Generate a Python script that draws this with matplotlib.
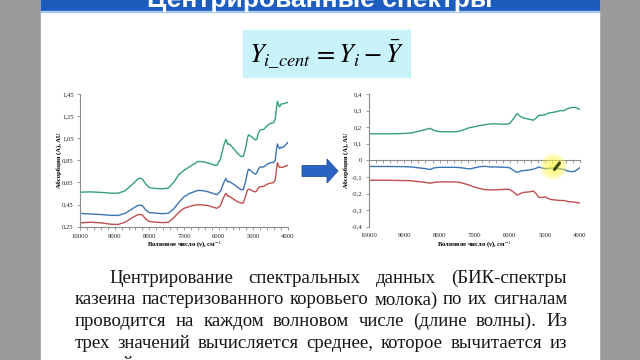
import matplotlib
matplotlib.use('Agg')
import matplotlib.pyplot as plt
from matplotlib.patches import Rectangle, Polygon
import numpy as np

plt.rcParams['font.family'] = ['Liberation Serif', 'DejaVu Serif']
plt.rcParams['mathtext.fontset'] = 'stix'

# ---------------- data ----------------
wn_raw = [10000, 9700, 9400, 9100, 8900, 8700, 8500, 8350, 8270, 8200, 8100, 8000, 7800, 7600,
          7450, 7300, 7150, 7000, 6850, 6700, 6600, 6450, 6300, 6150, 6050, 5950, 5850, 5790,
          5740, 5700, 5650, 5550, 5450, 5350, 5290, 5230, 5170, 5140, 5080, 5000, 4940, 4900,
          4850, 4800, 4700, 4600, 4500, 4420, 4370, 4330, 4305, 4270, 4240, 4200, 4150, 4100, 4000]
green_raw = [0.562, 0.565, 0.56, 0.553, 0.553, 0.575, 0.63, 0.675, 0.69, 0.68, 0.635, 0.603, 0.595, 0.593,
             0.6, 0.65, 0.72, 0.76, 0.79, 0.82, 0.84, 0.838, 0.825, 0.81, 0.805, 0.86, 0.99, 1.04,
             0.995, 1.0, 0.985, 0.95, 0.91, 0.885, 0.885, 0.95, 1.05, 1.08, 1.07, 1.05, 1.035, 1.04,
             1.1, 1.125, 1.13, 1.165, 1.185, 1.19, 1.22, 1.33, 1.385, 1.35, 1.335, 1.36, 1.36, 1.365, 1.375]
blue_raw = [0.37, 0.365, 0.36, 0.353, 0.352, 0.37, 0.41, 0.44, 0.446, 0.44, 0.40, 0.378, 0.372, 0.368,
            0.372, 0.41, 0.47, 0.52, 0.55, 0.567, 0.578, 0.576, 0.565, 0.55, 0.54, 0.57, 0.65, 0.685,
            0.655, 0.66, 0.65, 0.63, 0.605, 0.585, 0.585, 0.65, 0.74, 0.77, 0.76, 0.735, 0.725, 0.735,
            0.775, 0.79, 0.79, 0.815, 0.83, 0.83, 0.85, 0.95, 0.998, 0.97, 0.955, 0.97, 0.965, 0.98, 1.013]
red_raw = [0.285, 0.29, 0.285, 0.272, 0.27, 0.29, 0.33, 0.356, 0.362, 0.355, 0.318, 0.297, 0.29, 0.287,
           0.29, 0.33, 0.38, 0.416, 0.432, 0.445, 0.448, 0.447, 0.44, 0.425, 0.416, 0.44, 0.52, 0.552,
           0.525, 0.528, 0.515, 0.495, 0.475, 0.463, 0.465, 0.52, 0.58, 0.59, 0.585, 0.57, 0.565, 0.575,
           0.605, 0.612, 0.615, 0.635, 0.645, 0.648, 0.67, 0.77, 0.828, 0.8, 0.785, 0.79, 0.785, 0.795, 0.805]

wn_cent = [10000, 9500, 9000, 8800, 8600, 8400, 8270, 8150, 8000, 7800, 7600, 7450, 7300, 7150, 7000,
           6850, 6700, 6550, 6400, 6250, 6100, 6000, 5900, 5790, 5700, 5600, 5450, 5330, 5250, 5180,
           5100, 5000, 4920, 4850, 4750, 4650, 4550, 4450, 4350, 4250, 4150, 4050, 4000]
green_cent = [0.16, 0.16, 0.162, 0.165, 0.175, 0.186, 0.193, 0.18, 0.173, 0.172, 0.172, 0.175, 0.185, 0.197,
              0.203, 0.21, 0.215, 0.22, 0.22, 0.218, 0.218, 0.222, 0.25, 0.282, 0.265, 0.255, 0.248, 0.242,
              0.255, 0.27, 0.272, 0.275, 0.283, 0.287, 0.29, 0.295, 0.3, 0.3, 0.312, 0.318, 0.32, 0.312, 0.307]
blue_cent = [-0.037, -0.037, -0.038, -0.04, -0.045, -0.05, -0.055, -0.045, -0.042, -0.042, -0.042, -0.043,
             -0.047, -0.052, -0.045, -0.038, -0.036, -0.04, -0.04, -0.041, -0.042, -0.045, -0.06, -0.073,
             -0.065, -0.062, -0.058, -0.053, -0.048, -0.04, -0.045, -0.05, -0.05, -0.047, -0.047, -0.05,
             -0.052, -0.055, -0.065, -0.068, -0.066, -0.052, -0.043]
red_cent = [-0.12, -0.12, -0.122, -0.123, -0.128, -0.133, -0.138, -0.133, -0.13, -0.13, -0.13, -0.132,
            -0.14, -0.15, -0.162, -0.17, -0.177, -0.178, -0.178, -0.176, -0.174, -0.176, -0.19, -0.21,
            -0.2, -0.193, -0.19, -0.185, -0.2, -0.222, -0.224, -0.22, -0.228, -0.235, -0.238, -0.24,
            -0.242, -0.242, -0.248, -0.25, -0.252, -0.256, -0.258]

x_ticks = [10000, 9000, 8000, 7000, 6000, 5000, 4000]
x_ticklabels = ['10000', '9000', '8000', '7000', '6000', '5000', '4000']
y_ticks_raw = [0.25, 0.45, 0.65, 0.85, 1.05, 1.25, 1.45]
y_ticklabels_raw = ['0,25', '0,45', '0,65', '0,85', '1,05', '1,25', '1,45']
y_ticks_cent = [-0.4, -0.3, -0.2, -0.1, 0, 0.1, 0.2, 0.3, 0.4]
y_ticklabels_cent = ['-0,4', '-0,3', '-0,2', '-0,1', '0', '0,1', '0,2', '0,3', '0,4']

title_text = 'Центрированные спектры'
formula = r'$Y_{i\_cent}\,=Y_i-\bar{Y}$'
xlabel_text = 'Волновое число (ν), см$^{-1}$'
ylabel_text = 'Абсорбция (A), AU'
para_lines = [
    'Центрирование спектральных данных (БИК-спектры',
    'казеина пастеризованного коровьего молока) по их сигналам',
    'проводится на каждом волновом числе (длине волны). Из',
    'трех значений вычисляется среднее, которое вычитается из',
    'каждой',
]

GREEN, BLUE, RED = '#33a078', '#3b74b3', '#c0504d'
AXC = '#8c8c8c'

# ---------------- figure ----------------
W, H = 640, 360
fig = plt.figure(figsize=(6.4, 3.6), dpi=100)
fig.patch.set_facecolor('#9a9a9a')

bg = fig.add_axes([0, 0, 1, 1], zorder=0)
bg.set_xlim(0, W)
bg.set_ylim(H, 0)
bg.axis('off')
bg.patch.set_alpha(0)

bg.add_patch(Rectangle((41, -5), 558, H + 10, color='white', zorder=0))
bg.add_patch(Rectangle((41, -5), 558, 15.5, color='#1c5cbd', zorder=1))
bg.add_patch(Rectangle((41, 10.5), 558, 1.2, color='#a9c8ec', zorder=1))
bg.text(320, 7, title_text, color='white', fontsize=19, fontweight='bold',
        family=['Liberation Sans', 'DejaVu Sans'], ha='center', va='baseline', zorder=2)

bg.add_patch(Rectangle((243, 30), 167, 47, color='#c9f3fb', zorder=1))
bg.text(327, 54, formula, fontsize=19, ha='center', va='center', zorder=2)

# arrow
arrow_pts = [(302, 165.5), (327, 165.5), (327, 159), (338, 171), (327, 183), (327, 176.5), (302, 176.5)]
bg.add_patch(Polygon(arrow_pts, closed=True, facecolor='#2a63c2', edgecolor='#1d4f9e', lw=0.6, zorder=2))

# paragraph (justified)
renderer = fig.canvas.get_renderer()
x_left, x_right = 75, 567


def text_width(s, fs):
    t = bg.text(0, 0, s, fontsize=fs)
    w = t.get_window_extent(renderer).width
    t.remove()
    return w


fs = 13.5 * (x_right - x_left) * 0.99 / text_width(para_lines[1], 13.5)
tkw = dict(fontsize=fs, color='#151515', va='baseline', ha='left', zorder=2)
baselines = [283, 304.5, 326, 347.5, 369]
starts = [109, x_left, x_left, x_left, x_left]
for i, (line, yb) in enumerate(zip(para_lines, baselines)):
    words = line.split(' ')
    full = text_width(line, fs)
    extra = 0.0
    if i < len(para_lines) - 1 and len(words) > 1:
        extra = (x_right - starts[i] - full) / (len(words) - 1)
    for k, w in enumerate(words):
        prefix = ' '.join(words[:k + 1])
        off = text_width(prefix, fs) - text_width(w, fs)
        bg.text(starts[i] + off + k * extra, yb, w, **tkw)


def add_axes_px(x0, y0, x1, y1, z=1):
    return fig.add_axes([x0 / W, 1 - y1 / H, (x1 - x0) / W, (y1 - y0) / H], zorder=z)


def style(ax):
    ax.patch.set_alpha(0)
    for s in ['top', 'right']:
        ax.spines[s].set_visible(False)
    for s in ['left', 'bottom']:
        ax.spines[s].set_color(AXC)
        ax.spines[s].set_linewidth(0.8)
    ax.tick_params(which='both', direction='out', length=2, width=0.6, color=AXC,
                   labelsize=4.8, labelcolor='#222222')
    ax.set_xlim(10000, 4000)
    ax.set_xticks(x_ticks)
    ax.set_xticks(np.arange(4000, 10001, 200), minor=True)


# left chart
ax1 = add_axes_px(80, 94, 288, 226.7)
style(ax1)
ax1.plot(wn_raw, green_raw, color=GREEN, lw=1.0)
ax1.plot(wn_raw, blue_raw, color=BLUE, lw=1.0)
ax1.plot(wn_raw, red_raw, color=RED, lw=1.0)
ax1.set_ylim(0.25, 1.45)
ax1.set_yticks(y_ticks_raw)
ax1.set_yticklabels(y_ticklabels_raw)
ax1.set_xticklabels(x_ticklabels)
ax1.tick_params(axis='y', pad=2.5)
ax1.tick_params(axis='x', pad=3)
ax1.set_xlabel(xlabel_text, fontsize=4.8, fontweight='bold')
ax1.set_ylabel(ylabel_text, fontsize=4.8, fontweight='bold')
ax1.xaxis.set_label_coords(0.5, (226.7 - 245) / 132.7)
ax1.xaxis.label.set_va('center')
ax1.yaxis.set_label_coords((59 - 80) / 208, 0.5)
ax1.yaxis.label.set_va('center')

# right chart
ax2 = add_axes_px(369.3, 94, 580, 226.7)
style(ax2)
ax2.plot(wn_cent, green_cent, color=GREEN, lw=1.0)
ax2.plot(wn_cent, blue_cent, color=BLUE, lw=1.0)
ax2.plot(wn_cent, red_cent, color=RED, lw=1.0)
ax2.set_ylim(-0.4, 0.4)
ax2.set_yticks(y_ticks_cent)
ax2.set_yticklabels(y_ticklabels_cent)
ax2.spines['bottom'].set_position(('data', 0))
ax2.tick_params(axis='x', which='both', labelbottom=False)
ax2.tick_params(axis='y', pad=3.0)
sec = ax2.secondary_xaxis(0.0)
sec.spines['bottom'].set_visible(False)
sec.set_xticks(x_ticks)
sec.set_xticklabels(x_ticklabels)
sec.tick_params(length=0, pad=4.5, labelsize=4.8, labelcolor='#222222')
sec.xaxis.set_minor_locator(matplotlib.ticker.NullLocator())
ax2.set_ylabel(ylabel_text, fontsize=4.8, fontweight='bold')
ax2.yaxis.set_label_coords((346 - 369.3) / 210.7, 0.5)
ax2.yaxis.label.set_va('center')
fig.text((369.3 + 580) / 2 / W, 1 - 245 / H, xlabel_text, fontsize=4.8, fontweight='bold',
         ha='center', va='center')

# cursor highlight (top overlay)
top = fig.add_axes([0, 0, 1, 1], zorder=5)
top.set_xlim(0, W)
top.set_ylim(H, 0)
top.axis('off')
top.patch.set_alpha(0)
n = 61
yy, xx = np.mgrid[-1:1:n * 1j, -1:1:n * 1j]
r = np.sqrt(xx ** 2 + yy ** 2)
img = np.zeros((n, n, 4))
img[..., 0] = 1.0
img[..., 1] = 0.96
img[..., 2] = 0.25
img[..., 3] = np.clip(1 - r, 0, 1) ** 0.45 * 0.75
cx, cy, rad = 553, 167, 13.5
top.imshow(img, extent=(cx - rad, cx + rad, cy + rad, cy - rad), interpolation='bilinear', zorder=1)
top.plot([554.5, 559.5], [169.5, 163], color='#3b4a12', lw=2.2, solid_capstyle='round', zorder=2)
top.set_xlim(0, W)
top.set_ylim(H, 0)

fig.savefig('out.png', dpi=100, facecolor=fig.get_facecolor())
